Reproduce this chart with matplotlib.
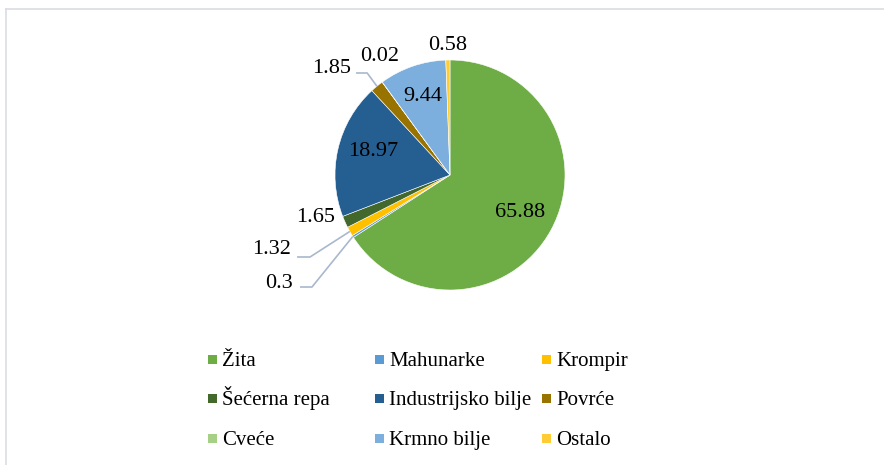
import numpy as np
import matplotlib.pyplot as plt
from matplotlib.patches import Rectangle
from matplotlib.lines import Line2D

categories = ["Žita", "Mahunarke", "Krompir", "Šećerna repa", "Industrijsko bilje",
              "Povrće", "Cveće", "Krmno bilje", "Ostalo"]
values = [65.88, 0.3, 1.32, 1.65, 18.97, 1.85, 0.02, 9.44, 0.58]
labels = ["65.88", "0.3", "1.32", "1.65", "18.97", "1.85", "0.02", "9.44", "0.58"]
colors = ["#6EAD46", "#5B9BD5", "#FFC000", "#43682B", "#255E91",
          "#997300", "#A5D086", "#7CAFDD", "#FFCD33"]

# label positions relative to pie (units of radius)
label_pos = [(0.61, -0.33), (-1.49, -0.94), (-1.55, -0.65), (-1.17, -0.37), (-0.67, 0.20),
             (-1.03, 0.93), (-0.61, 1.03), (-0.24, 0.68), (-0.02, 1.13)]
# leader lines: index -> (end point, elbow point)
leaders = {1: ((-1.304, -0.974), (-1.20, -0.974)),
           2: ((-1.33, -0.713), (-1.217, -0.713)),
           5: ((-0.817, 0.887), (-0.72, 0.887))}

plt.rcParams['font.family'] = ['Liberation Serif', 'DejaVu Serif']

W, H = 884, 465
fig = plt.figure(figsize=(W / 100, H / 100), dpi=100)

# chart frame
fig.add_artist(Line2D([6 / W, 6 / W], [0, 1 - 9.5 / H], color="#D9DDE3", lw=1.2))
fig.add_artist(Line2D([6 / W, 1], [1 - 9.5 / H, 1 - 9.5 / H], color="#D9DDE3", lw=1.2))

cx, cy, r = 450, 175, 115
L = 1.6
side = 2 * L * r
ax = fig.add_axes([(cx - side / 2) / W, (H - cy - side / 2) / H, side / W, side / H])
ax.pie(values, colors=colors, startangle=90, counterclock=False, radius=1,
       wedgeprops=dict(edgecolor="white", linewidth=0.4))
ax.set_xlim(-L, L)
ax.set_ylim(-L, L)
ax.set_aspect("equal")
ax.axis("off")

# leader line targets at wedge midpoints
cum = np.cumsum([0] + values[:-1])
total = sum(values)
for i, (end, elbow) in leaders.items():
    ang = np.deg2rad(90 - (cum[i] + values[i] / 2) / total * 360)
    px, py = np.cos(ang), np.sin(ang)
    ax.plot([end[0], elbow[0], px], [end[1], elbow[1], py], color="#A9B8CE", lw=1.2,
            solid_capstyle="butt")

for lab, (x, y) in zip(labels, label_pos):
    ax.text(x, y, lab, fontsize=16, ha="center", va="center", color="black")

# legend laid out row by row
x0, dx = 212.5, 167
y0, dy = 359, 39.5
for i, (name, c) in enumerate(zip(categories, colors)):
    row, col = i // 3, i % 3
    mx = x0 + col * dx
    my = y0 + row * dy
    fig.add_artist(Rectangle(((mx - 4.5) / W, (H - my - 4.5) / H), 9 / W, 9 / H,
                             facecolor=c, edgecolor="none"))
    fig.text((mx + 9.5) / W, (H - my - 6.5) / H, name, fontsize=15, ha="left", va="baseline")

fig.savefig("out.png", dpi=100)
